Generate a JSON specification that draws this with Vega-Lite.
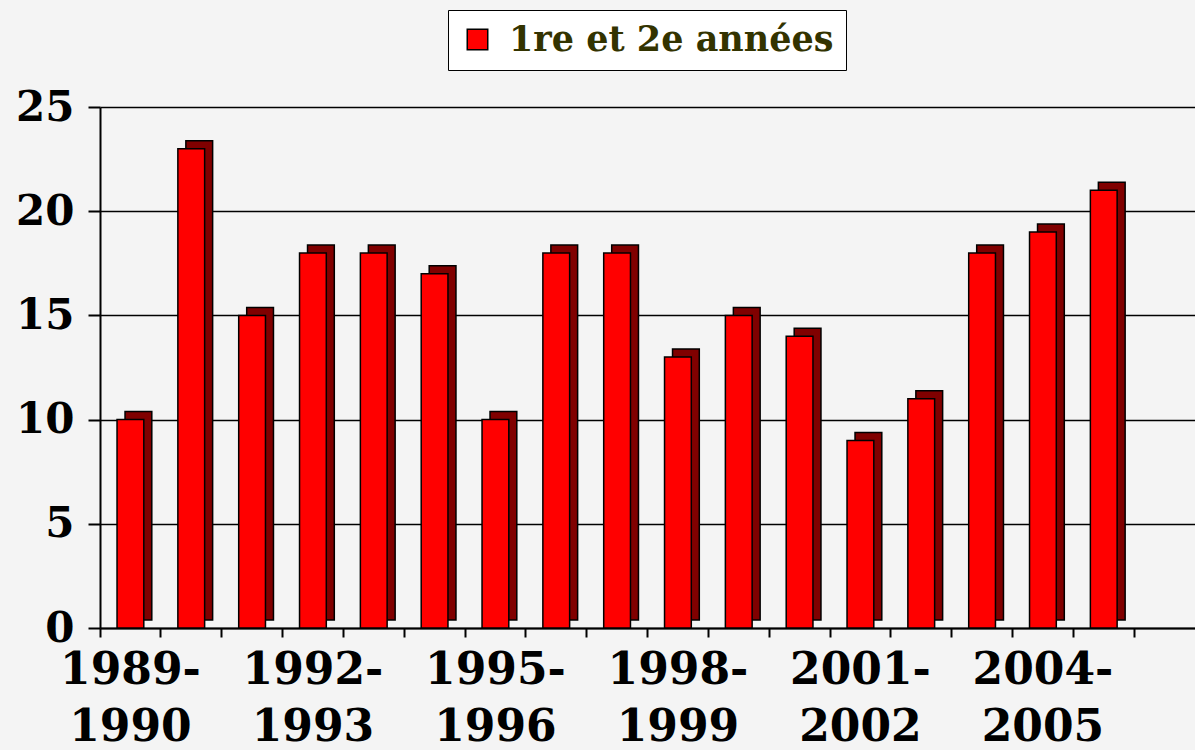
{
  "$schema": "https://vega.github.io/schema/vega-lite/v6.json",
  "autosize": {"type": "none"},
  "width": 1095,
  "height": 521,
  "padding": {"left": 100, "top": 107, "right": 0, "bottom": 122},
  "background": "#f4f4f4",
  "config": {
    "view": {"stroke": null, "fill": "#f4f4f4"},
    "font": "DejaVu Serif"
  },
  "data": {
    "values": [
      {"annee": "1989-1990", "n": 10, "serie": "1re et 2e années"},
      {"annee": "1990-1991", "n": 23, "serie": "1re et 2e années"},
      {"annee": "1991-1992", "n": 15, "serie": "1re et 2e années"},
      {"annee": "1992-1993", "n": 18, "serie": "1re et 2e années"},
      {"annee": "1993-1994", "n": 18, "serie": "1re et 2e années"},
      {"annee": "1994-1995", "n": 17, "serie": "1re et 2e années"},
      {"annee": "1995-1996", "n": 10, "serie": "1re et 2e années"},
      {"annee": "1996-1997", "n": 18, "serie": "1re et 2e années"},
      {"annee": "1997-1998", "n": 18, "serie": "1re et 2e années"},
      {"annee": "1998-1999", "n": 13, "serie": "1re et 2e années"},
      {"annee": "1999-2000", "n": 15, "serie": "1re et 2e années"},
      {"annee": "2000-2001", "n": 14, "serie": "1re et 2e années"},
      {"annee": "2001-2002", "n": 9, "serie": "1re et 2e années"},
      {"annee": "2002-2003", "n": 11, "serie": "1re et 2e années"},
      {"annee": "2003-2004", "n": 18, "serie": "1re et 2e années"},
      {"annee": "2004-2005", "n": 19, "serie": "1re et 2e années"},
      {"annee": "2005-2006", "n": 21, "serie": "1re et 2e années"}
    ]
  },
  "encoding": {
    "x": {
      "field": "annee",
      "type": "nominal",
      "sort": null,
      "scale": {
        "domain": ["1989-1990","1990-1991","1991-1992","1992-1993","1993-1994","1994-1995","1995-1996","1996-1997","1997-1998","1998-1999","1999-2000","2000-2001","2001-2002","2002-2003","2003-2004","2004-2005","2005-2006","2006-2007"],
        "paddingInner": 0.56,
        "paddingOuter": 0.28
      },
      "axis": {
        "title": null,
        "labelAngle": 0,
        "labelOverlap": false,
        "labelExpr": "(toNumber(slice(datum.value,0,4)) - 1989) % 3 == 0 ? [slice(datum.value,0,5), slice(datum.value,5)] : ''",
        "labelFont": "DejaVu Serif",
        "labelFontWeight": "bold",
        "labelFontSize": 44,
        "labelLineHeight": 57,
        "labelColor": "#000000",
        "labelPadding": 11,
        "labelBaseline": "top",
        "bandPosition": -0.636,
        "domainColor": "#000000",
        "domainWidth": 2,
        "tickColor": "#000000",
        "tickWidth": 2,
        "tickSize": 9,
        "grid": false
      }
    },
    "y": {
      "field": "n",
      "type": "quantitative",
      "scale": {"domain": [0, 25]},
      "axis": {
        "title": null,
        "values": [0, 5, 10, 15, 20, 25],
        "labelFont": "DejaVu Serif",
        "labelFontWeight": "bold",
        "labelFontSize": 42,
        "labelColor": "#000000",
        "labelPadding": 14,
        "domainColor": "#000000",
        "domainWidth": 2,
        "tickColor": "#000000",
        "tickWidth": 2,
        "tickSize": 12,
        "grid": true,
        "gridColor": "#000000",
        "gridWidth": 1.5
      }
    }
  },
  "layer": [
    {
      "mark": {"type": "bar", "fill": "#800000", "stroke": "#000000", "strokeWidth": 1.5, "xOffset": 8, "yOffset": -8},
      "encoding": {}
    },
    {
      "mark": {"type": "bar", "stroke": "#000000", "strokeWidth": 1.5},
      "encoding": {
        "color": {
          "field": "serie",
          "type": "nominal",
          "scale": {"range": ["#ff0000"]},
          "legend": {
            "title": null,
            "orient": "none",
            "legendX": 348,
            "legendY": -97,
            "fillColor": "#ffffff",
            "strokeColor": "#000000",
            "padding": 12,
            "symbolType": "square",
            "symbolSize": 420,
            "symbolStrokeColor": "#000000",
            "symbolStrokeWidth": 1.5,
            "symbolOpacity": 1,
            "labelFont": "DejaVu Serif",
            "labelFontWeight": "bold",
            "labelFontSize": 35,
            "labelColor": "#333300",
            "labelLimit": 500,
            "labelOffset": 14
          }
        }
      }
    }
  ]
}
